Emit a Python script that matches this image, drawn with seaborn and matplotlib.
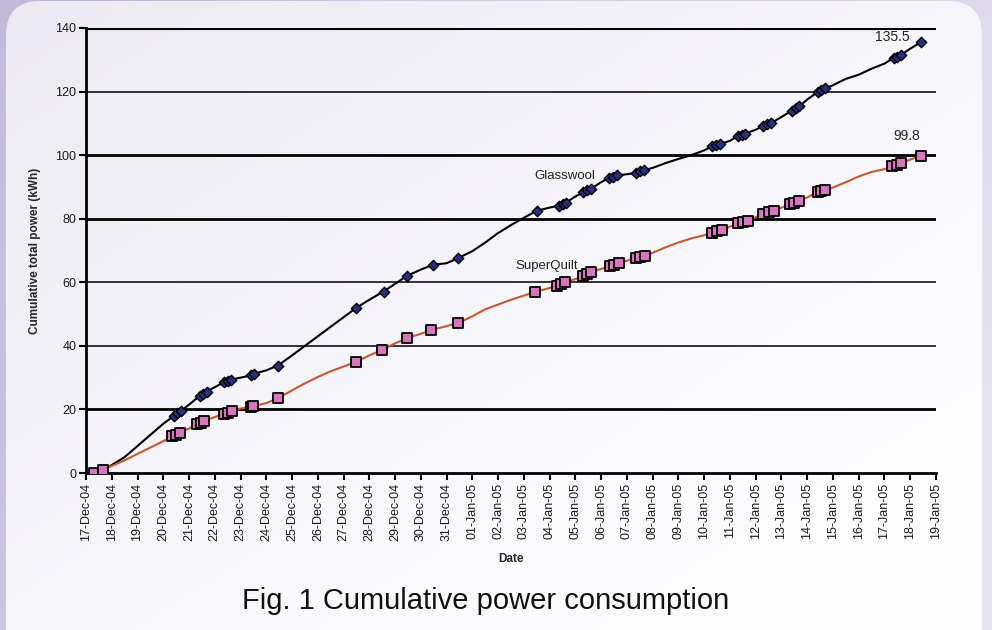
import numpy as np
import pandas as pd
import matplotlib
matplotlib.use("Agg")
import matplotlib.pyplot as plt
import matplotlib.dates as mdates
from matplotlib.patches import FancyBboxPatch
import seaborn as sns

# ---------------- data (days after 17-Dec-2004 00:00, kWh) ----------------
start_date = "2004-12-17"
end_date = "2005-01-19"

gw_days = [0.6, 0.8, 1.0, 1.5, 2.0, 2.5, 3.0, 3.42, 3.55, 3.68, 4.0, 4.42, 4.55, 4.68,
           5.0, 5.35, 5.5, 5.63, 6.0, 6.4, 6.52, 7.0, 7.45, 8.0, 8.5, 9.0, 9.5, 10.0,
           10.5, 11.0, 11.55, 12.0, 12.45, 13.0, 13.47, 14.0, 14.45, 15.0, 15.5, 16.0,
           16.5, 17.0, 17.5, 18.0, 18.35, 18.5, 18.62, 19.0, 19.3, 19.45, 19.6, 20.0,
           20.3, 20.45, 20.6, 21.0, 21.35, 21.5, 21.65, 22.0, 22.5, 23.0, 23.5, 24.0,
           24.3, 24.45, 24.6, 25.0, 25.3, 25.45, 25.6, 26.0, 26.3, 26.45, 26.6, 27.0,
           27.4, 27.55, 27.7, 28.0, 28.4, 28.55, 28.7, 29.0, 29.5, 30.0, 30.5, 31.0,
           31.35, 31.5, 31.65, 32.0, 32.4]
gw_vals = [1.0, 1.5, 2.5, 5.0, 8.5, 12.0, 15.5, 18.0, 18.8, 19.5, 21.5, 24.3, 24.9, 25.6,
           27.0, 28.5, 29.0, 29.4, 30.0, 30.7, 31.2, 32.3, 33.8, 37.0, 40.0, 43.0, 46.0, 49.0,
           52.0, 54.5, 57.1, 59.5, 62.0, 64.0, 65.5, 66.0, 67.6, 69.8, 72.5, 75.5,
           78.0, 80.3, 82.5, 83.5, 84.1, 84.6, 85.0, 87.0, 88.3, 88.9, 89.4, 91.5,
           92.8, 93.2, 93.6, 94.0, 94.4, 94.9, 95.2, 96.0, 97.5, 98.8, 100.0, 101.5,
           102.8, 103.1, 103.5, 104.5, 106.0, 106.4, 106.8, 108.0, 109.2, 109.7, 110.1, 112.0,
           114.0, 114.7, 115.4, 117.5, 119.8, 120.4, 121.0, 122.0, 124.0, 125.3, 127.2, 128.8,
           130.6, 131.0, 131.6, 133.5, 135.5]
gw_marker_days = [0.6, 3.42, 3.55, 3.68, 4.42, 4.55, 4.68, 5.35, 5.5, 5.63, 6.4, 6.52, 7.45,
                  10.5, 11.55, 12.45, 13.47, 14.45, 17.5, 18.35, 18.5, 18.62, 19.3, 19.45,
                  19.6, 20.3, 20.45, 20.6, 21.35, 21.5, 21.65, 24.3, 24.45, 24.6, 25.3, 25.45,
                  25.6, 26.3, 26.45, 26.6, 27.4, 27.55, 27.7, 28.4, 28.55, 28.7, 31.35, 31.5,
                  31.65, 32.4]

sq_days = [0.3, 0.66, 1.0, 1.5, 2.0, 2.5, 3.0, 3.35, 3.5, 3.65, 4.0, 4.3, 4.45, 4.6, 5.0,
           5.35, 5.5, 5.65, 6.0, 6.4, 6.5, 7.0, 7.45, 8.0, 8.5, 9.0, 9.5, 10.0, 10.5, 11.0,
           11.5, 12.0, 12.45, 13.0, 13.4, 14.0, 14.45, 15.0, 15.5, 16.0, 16.5, 17.0, 17.45,
           18.0, 18.3, 18.45, 18.6, 19.0, 19.3, 19.45, 19.6, 20.0, 20.35, 20.5, 20.7, 21.0,
           21.35, 21.5, 21.7, 22.0, 22.5, 23.0, 23.5, 24.0, 24.3, 24.5, 24.7, 25.0, 25.3,
           25.5, 25.7, 26.0, 26.3, 26.5, 26.7, 27.0, 27.35, 27.5, 27.7, 28.0, 28.4, 28.55,
           28.7, 29.0, 29.5, 30.0, 30.5, 31.0, 31.3, 31.5, 31.65, 32.0, 32.4]
sq_vals = [0.0, 1.0, 2.2, 4.0, 6.0, 8.0, 10.0, 11.5, 12.1, 12.7, 14.0, 15.3, 15.8, 16.4, 17.6,
           18.6, 19.0, 19.5, 20.3, 20.8, 21.0, 22.0, 23.5, 26.0, 28.2, 30.2, 32.0, 33.5, 35.0, 37.0,
           38.7, 40.8, 42.4, 43.8, 45.0, 46.2, 47.2, 49.3, 51.5, 53.0, 54.5, 55.8, 57.0,
           58.2, 58.8, 59.4, 60.0, 61.0, 62.0, 62.7, 63.2, 64.2, 65.1, 65.5, 66.0, 66.8,
           67.6, 67.9, 68.2, 69.3, 71.0, 72.5, 73.8, 74.8, 75.6, 76.0, 76.4, 77.5, 78.5,
           79.0, 79.4, 80.5, 81.6, 82.0, 82.4, 83.5, 84.5, 85.1, 85.7, 86.7, 88.3, 88.7,
           89.1, 89.8, 91.5, 93.3, 94.7, 95.6, 96.5, 97.0, 97.5, 98.6, 99.8]
sq_marker_days = [0.3, 0.66, 3.35, 3.5, 3.65, 4.3, 4.45, 4.6, 5.35, 5.5, 5.65, 6.4, 6.5, 7.45,
                  10.5, 11.5, 12.45, 13.4, 14.45, 17.45, 18.3, 18.45, 18.6, 19.3, 19.45, 19.6,
                  20.35, 20.5, 20.7, 21.35, 21.5, 21.7, 24.3, 24.5, 24.7, 25.3, 25.5, 25.7,
                  26.3, 26.5, 26.7, 27.35, 27.5, 27.7, 28.4, 28.55, 28.7, 31.3, 31.5, 31.65,
                  32.4]

y_ticks = [0, 20, 40, 60, 80, 100, 120, 140]
grid_widths = [0, 2.0, 1.1, 1.1, 2.0, 2.0, 1.1, 2.2]
gw_final_label = "135.5"
sq_final_label = "99.8"

# ---------------- frames ----------------
base = pd.Timestamp(start_date)
def to_frame(days, vals):
    return pd.DataFrame({"date": base + pd.to_timedelta(days, unit="D"), "kwh": vals})

gw = to_frame(gw_days, gw_vals)
sq = to_frame(sq_days, sq_vals)
gw_lookup = dict(zip(gw_days, gw_vals))
sq_lookup = dict(zip(sq_days, sq_vals))
gw_m = to_frame(gw_marker_days, [gw_lookup[d] for d in gw_marker_days])
sq_m = to_frame(sq_marker_days, [sq_lookup[d] for d in sq_marker_days])

# ---------------- figure ----------------
sns.set_theme(style="white")
plt.rcParams["font.family"] = ["Liberation Sans", "DejaVu Sans"]

W, H = 992, 630
fig = plt.figure(figsize=(W / 100, H / 100), dpi=100)
fig.patch.set_facecolor("#cbc3dd")

# background: lavender frame with soft gradient + pale rounded panel
bg = fig.add_axes([0, 0, 1, 1])
bg.set_xlim(0, W)
bg.set_ylim(H, 0)
bg.axis("off")
yy, xx = np.mgrid[0:H:3, 0:W:3]
tf = np.clip(xx / W * 0.8 + yy / H * 0.3, 0, 1)
f0 = np.array([0.76, 0.73, 0.85])
f1 = np.array([0.90, 0.89, 0.94])
frame_img = f0 * (1 - tf[..., None]) + f1 * tf[..., None]
bg.imshow(frame_img, extent=[0, W, H, 0], aspect="auto", zorder=0)
t = np.clip((xx / W * 0.6 + yy / H * 0.6), 0, 1)
c0 = np.array([0.925, 0.915, 0.955])
c1 = np.array([0.995, 0.995, 1.0])
img = c0[None, None, :] * (1 - t[..., None]) + c1[None, None, :] * t[..., None]
panel = FancyBboxPatch((6, 1), 976, 660, boxstyle="round,pad=0,rounding_size=34",
                       transform=bg.transData, facecolor="none", edgecolor="none")
bg.add_patch(panel)
im = bg.imshow(img, extent=[0, W, H, 0], aspect="auto", zorder=1)
im.set_clip_path(panel)
bg.set_xlim(0, W)
bg.set_ylim(H, 0)

ax = fig.add_axes([86 / W, 1 - 473 / H, 850 / W, 445 / H])
ax.set_facecolor("none")

for yv, lw in zip(y_ticks, grid_widths):
    if lw > 0:
        ax.axhline(yv, color="black", lw=lw, zorder=1)

sns.lineplot(data=gw, x="date", y="kwh", ax=ax, color="black", lw=1.5,
             sort=False, estimator=None, zorder=3)
sns.lineplot(data=sq, x="date", y="kwh", ax=ax, color="#c4582e", lw=1.5,
             sort=False, estimator=None, zorder=3)
sns.scatterplot(data=gw_m, x="date", y="kwh", ax=ax, marker="D", s=28,
                color="#26307e", edgecolor="black", linewidth=1.0, zorder=4)
sns.scatterplot(data=sq_m, x="date", y="kwh", ax=ax, marker="s", s=44,
                color="#d677bd", edgecolor="black", linewidth=1.3, zorder=4)

ax.set_xlim(pd.Timestamp(start_date), pd.Timestamp(end_date))
ax.set_ylim(0, 140)
ax.set_yticks(y_ticks)
ax.xaxis.set_major_locator(mdates.DayLocator())
ax.xaxis.set_major_formatter(mdates.DateFormatter("%d-%b-%y"))
ax.tick_params(axis="x", rotation=90, labelsize=9, length=5, width=1.5,
               direction="out", bottom=True, colors="black", labelcolor="#1a1a1a", pad=2)
ax.tick_params(axis="y", labelsize=9, length=5, width=1.5, direction="out",
               left=True, colors="black", labelcolor="#1a1a1a", pad=2)

for s in ["top", "right"]:
    ax.spines[s].set_visible(False)
for s in ["left", "bottom"]:
    ax.spines[s].set_color("black")
    ax.spines[s].set_linewidth(2)

ax.set_xlabel("Date", fontsize=8.5, fontweight="bold")
ax.set_ylabel("Cumulative total power (kWh)", fontsize=8.5, fontweight="bold")
ax.xaxis.set_label_coords(0.5, -(553 - 473) / 445)
ax.yaxis.set_label_coords(-(86 - 41) / 850, 0.5)

last_gw = gw.iloc[-1]
last_sq = sq.iloc[-1]
ax.annotate(gw_final_label, (last_gw["date"], last_gw["kwh"]), xytext=(-20, 4),
            textcoords="offset points", fontsize=10, color="#222222", ha="center", va="center")
ax.annotate(sq_final_label, (last_sq["date"], last_sq["kwh"]), xytext=(-10, 14.5),
            textcoords="offset points", fontsize=10, color="#222222", ha="center", va="center")
ax.text(pd.Timestamp(start_date) + pd.Timedelta(days=18.6), 93.5, "Glasswool",
        fontsize=9.5, color="#222222", ha="center", va="center")
ax.text(pd.Timestamp(start_date) + pd.Timedelta(days=17.9), 65.0, "SuperQuilt",
        fontsize=9.5, color="#222222", ha="center", va="center")

fig.text(486 / W, 1 - 601 / H, "Fig. 1 Cumulative power consumption",
         fontsize=21, color="#111111", ha="center", va="center")

fig.savefig("out.png", dpi=100, facecolor=fig.get_facecolor())
